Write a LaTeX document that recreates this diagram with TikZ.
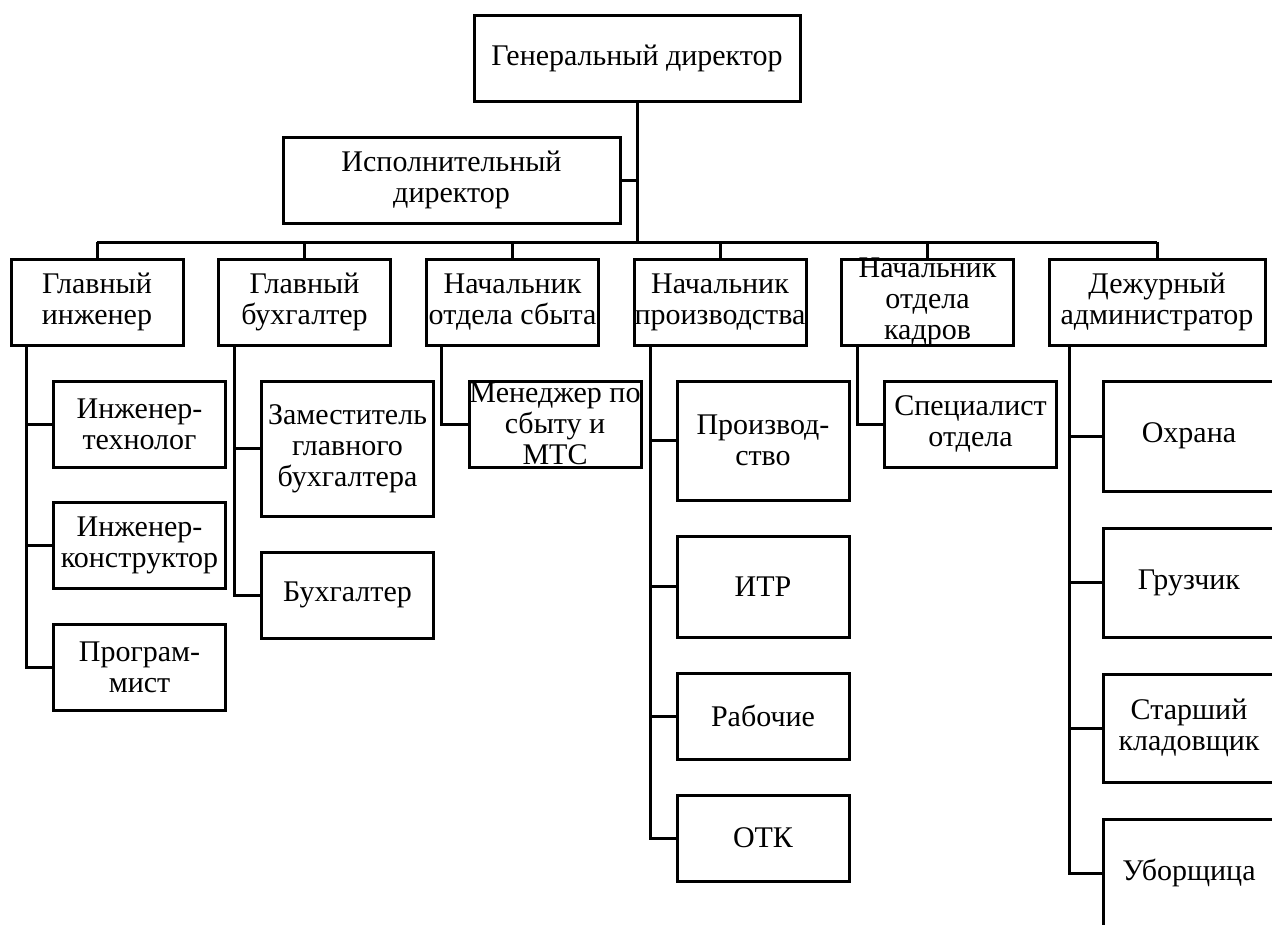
\documentclass[tikz,border=0pt]{standalone}
\usepackage{fontspec}
\setmainfont{Liberation Serif}
\usepackage{tikz}
\usetikzlibrary{positioning}

\tikzset{
  post/.style={draw, line width=3pt, inner xsep=0pt, inner ysep=-1.5pt, align=center,
    minimum width=172pt, minimum height=86pt,
    font=\fontsize{30}{31}\selectfont},
  link/.style={line width=3pt}
}

\begin{document}
\begin{tikzpicture}[x=1pt, y=-1pt]
  \useasboundingbox (0,0) rectangle (1272,924);
  \clip (0,0) rectangle (1272,924);

  \node[post, minimum width=326] (gen) at (637,58) {Генеральный директор};
  \node[post, minimum width=337] (isp) at (451.5,180) {Исполнительный\\директор};
  \coordinate (bus) at (637,242);
  \draw[link] (gen.south) -- (bus);
  \draw[link] (isp.east) -- (isp.east -| gen.south);

  \foreach \n/\x/\w/\t in {ingl/97/172/{Главный\\инженер},
                           buh/304.5/172/{Главный\\бухгалтер},
                           sbyt/512.5/172/{Начальник\\отдела сбыта},
                           proizv/720/172/{Начальник\\производства},
                           kadr/927.5/172/{Начальник\\отдела\\кадров},
                           dezh/1157/216/{Дежурный\\администратор}}{
    \node[post, minimum width=\w] (\n) at (\x,302) {\t};
    \draw[link] (bus -| \n.north) -- (\n.north);
  }
  \draw[link] (bus -| ingl.north) -- (bus -| dezh.north);

  \foreach \p/\s/\c/\x/\y/\h/\t in {ingl/17/tech/139.5/424/86/{Инженер-\\технолог},
                                    ingl/17/konstr/139.5/545.5/86/{Инженер-\\конструктор},
                                    ingl/17/progr/139.5/667.5/86/{Програм-\\мист},
                                    buh/17/zam/347.5/448.5/135/{Заместитель\\главного\\бухгалтера},
                                    buh/17/buhg/347.5/595/86/{Бухгалтер},
                                    sbyt/16/menedzh/555/424/86/{Менеджер по\\сбыту и\\МТС},
                                    proizv/18/prod/763/440.5/119/{Производ-\\ство},
                                    proizv/18/itr/763/586.5/101/{ИТР},
                                    proizv/18/rab/763/716/86/{Рабочие},
                                    proizv/18/otk/763/838/86/{ОТК},
                                    kadr/17/spec/970.5/424/86/{Специалист\\отдела},
                                    dezh/22/ohr/1189/436/110/{Охрана},
                                    dezh/22/gruz/1189/582.5/109/{Грузчик},
                                    dezh/22/klad/1189/728/108/{Старший\\кладовщик},
                                    dezh/22/ubor/1189/873/108/{Уборщица}}{
    \node[post, minimum height=\h] (\c) at (\x,\y) {\t};
    \draw[link] ([xshift=\s]\p.south west) |- (\c.west);
  }
\end{tikzpicture}
\end{document}
